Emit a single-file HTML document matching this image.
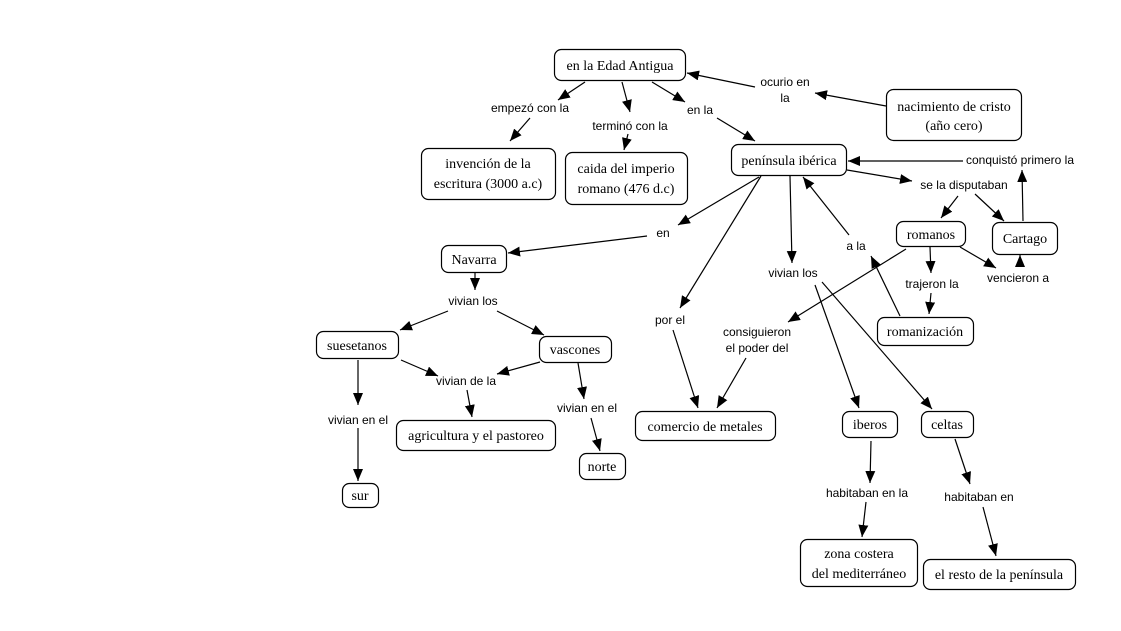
<!DOCTYPE html>
<html><head><meta charset="utf-8"><style>
html,body{margin:0;padding:0;background:#fff;}
svg{display:block}
.n rect{fill:#fff;stroke:#000;stroke-width:1.2}
.n text{font-family:"Liberation Serif",serif;font-size:14px;fill:#000;text-anchor:middle}
.l{font-family:"Liberation Sans",sans-serif;font-size:12px;fill:#000;text-anchor:middle}
line{stroke:#000;stroke-width:1.2}
</style></head><body>
<svg width="1121" height="631" viewBox="0 0 1121 631" xmlns="http://www.w3.org/2000/svg">
<defs><marker id="a" viewBox="0 0 12 10" refX="12" refY="5" markerWidth="12" markerHeight="10" markerUnits="userSpaceOnUse" orient="auto"><path d="M0,0L12,5L0,10z" fill="#000"/></marker></defs>
<g marker-end="url(#a)">
<line x1="585" y1="82" x2="558" y2="100"/>
<line x1="530" y1="118" x2="510" y2="141"/>
<line x1="622" y1="82" x2="630" y2="112"/>
<line x1="628" y1="134" x2="624" y2="150"/>
<line x1="652" y1="82" x2="685" y2="102"/>
<line x1="717" y1="118" x2="755" y2="141"/>
<line x1="886" y1="106" x2="815" y2="93"/>
<line x1="755" y1="87" x2="687" y2="73"/>
<line x1="963" y1="161" x2="848" y2="161"/>
<line x1="1023" y1="221" x2="1022" y2="170"/>
<line x1="847" y1="170" x2="912" y2="181"/>
<line x1="975" y1="194" x2="1004" y2="221"/>
<line x1="958" y1="196" x2="941" y2="218"/>
<line x1="930" y1="247" x2="931" y2="273"/>
<line x1="931" y1="293" x2="929" y2="314"/>
<line x1="960" y1="247" x2="996" y2="268"/>
<line x1="1020" y1="266" x2="1020" y2="255"/>
<line x1="900" y1="316" x2="871" y2="256"/>
<line x1="849" y1="235" x2="803" y2="177"/>
<line x1="906" y1="249" x2="788" y2="322"/>
<line x1="746" y1="358" x2="717" y2="408"/>
<line x1="761" y1="176" x2="680" y2="308"/>
<line x1="673" y1="330" x2="698" y2="408"/>
<line x1="790" y1="176" x2="792" y2="263"/>
<line x1="815" y1="285" x2="859" y2="408"/>
<line x1="822" y1="282" x2="932" y2="409"/>
<line x1="759" y1="177" x2="678" y2="225"/>
<line x1="647" y1="236" x2="508" y2="253"/>
<line x1="475" y1="273" x2="475" y2="290"/>
<line x1="448" y1="311" x2="400" y2="330"/>
<line x1="497" y1="311" x2="544" y2="335"/>
<line x1="401" y1="360" x2="438" y2="376"/>
<line x1="540" y1="362" x2="497" y2="374"/>
<line x1="467" y1="390" x2="472" y2="417"/>
<line x1="358" y1="360" x2="358" y2="405"/>
<line x1="358" y1="428" x2="358" y2="481"/>
<line x1="578" y1="363" x2="584" y2="399"/>
<line x1="591" y1="418" x2="600" y2="451"/>
<line x1="871" y1="441" x2="870" y2="483"/>
<line x1="866" y1="502" x2="862" y2="537"/>
<line x1="955" y1="439" x2="970" y2="484"/>
<line x1="983" y1="507" x2="996" y2="556"/>
</g>
<g class="n">
<rect x="554.5" y="49.5" width="131" height="31" rx="7"/><text x="620" y="70">en la Edad Antigua</text>
<rect x="886.5" y="89.5" width="135" height="51" rx="7"/><text x="954" y="111">nacimiento de cristo</text><text x="954" y="130">(año cero)</text>
<rect x="421.5" y="148.5" width="134" height="51" rx="7"/><text x="488" y="168">invención de la</text><text x="488" y="188">escritura (3000 a.c)</text>
<rect x="565.5" y="152.5" width="122" height="52" rx="7"/><text x="626" y="173">caida del imperio</text><text x="626" y="193">romano (476 d.c)</text>
<rect x="731.5" y="144.5" width="115" height="31" rx="7"/><text x="789" y="165">península ibérica</text>
<rect x="896.5" y="221.5" width="69" height="25" rx="7"/><text x="931" y="239">romanos</text>
<rect x="992.5" y="222.5" width="65" height="32" rx="7"/><text x="1025" y="243">Cartago</text>
<rect x="877.5" y="317.5" width="96" height="28" rx="7"/><text x="925" y="336">romanización</text>
<rect x="441.5" y="245.5" width="65" height="27" rx="7"/><text x="474" y="264">Navarra</text>
<rect x="316.5" y="331.5" width="82" height="27" rx="7"/><text x="357" y="350">suesetanos</text>
<rect x="539.5" y="336.5" width="72" height="26" rx="7"/><text x="575" y="354">vascones</text>
<rect x="396.5" y="420.5" width="159" height="30" rx="7"/><text x="476" y="440">agricultura y el pastoreo</text>
<rect x="579.5" y="453.5" width="46" height="26" rx="7"/><text x="602" y="471">norte</text>
<rect x="342.5" y="483.5" width="36" height="24" rx="7"/><text x="360" y="500">sur</text>
<rect x="635.5" y="411.5" width="140" height="29" rx="7"/><text x="705" y="431">comercio de metales</text>
<rect x="842.5" y="411.5" width="55" height="26" rx="7"/><text x="870" y="429">iberos</text>
<rect x="921.5" y="411.5" width="52" height="26" rx="7"/><text x="947" y="429">celtas</text>
<rect x="800.5" y="539.5" width="117" height="47" rx="7"/><text x="859" y="558">zona costera</text><text x="859" y="578">del mediterráneo</text>
<rect x="923.5" y="559.5" width="152" height="30" rx="7"/><text x="999" y="579">el resto de la península</text>
</g>
<g class="l">
<text x="530" y="112">empezó con la</text>
<text x="630" y="130">terminó con la</text>
<text x="700" y="114">en la</text>
<text x="785" y="86">ocurio en</text><text x="785" y="102">la</text>
<text x="1020" y="164">conquistó  primero la</text>
<text x="964" y="189">se la disputaban</text>
<text x="856" y="250">a la</text>
<text x="932" y="288">trajeron la</text>
<text x="1018" y="282">vencieron a</text>
<text x="663" y="237">en</text>
<text x="473" y="305">vivian los</text>
<text x="466" y="385">vivian de la</text>
<text x="358" y="424">vivian en el</text>
<text x="587" y="412">vivian en el</text>
<text x="670" y="324">por el</text>
<text x="757" y="336">consiguieron</text><text x="757" y="352">el poder del</text>
<text x="793" y="277">vivian los</text>
<text x="867" y="497">habitaban en la</text>
<text x="979" y="501">habitaban en</text>
</g>
</svg>
</body></html>
